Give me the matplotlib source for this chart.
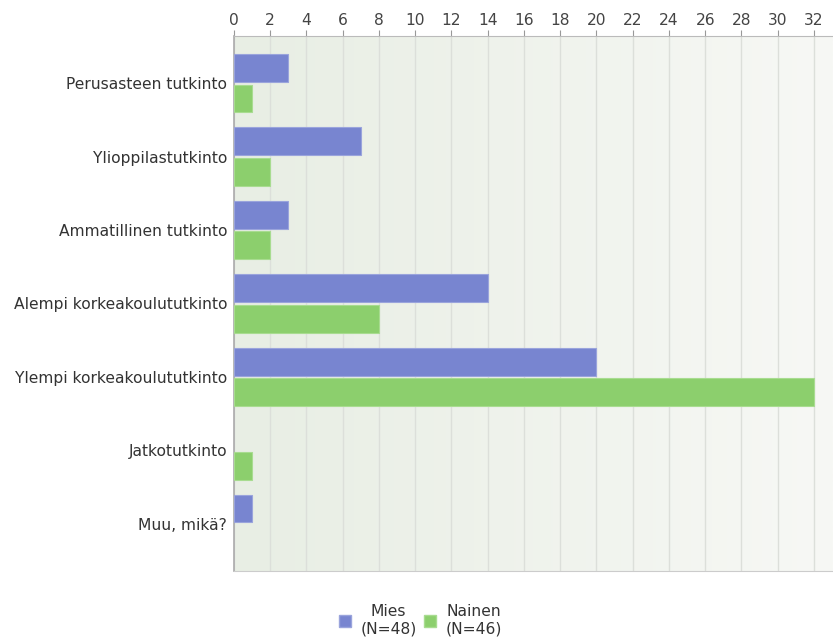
import matplotlib
matplotlib.use('Agg')
import matplotlib.pyplot as plt
from matplotlib.colors import LinearSegmentedColormap
from matplotlib.patches import Patch
import numpy as np

categories = ['Perusasteen tutkinto', 'Ylioppilastutkinto', 'Ammatillinen tutkinto',
              'Alempi korkeakoulututkinto', 'Ylempi korkeakoulututkinto',
              'Jatkotutkinto', 'Muu, mikä?']
mies = [3, 7, 3, 14, 20, 0, 1]
nainen = [1, 2, 2, 8, 32, 1, 0]
series_labels = ['Mies\n(N=48)', 'Nainen\n(N=46)']
xticks = list(range(0, 33, 2))

blue = '#7885d0'
green = '#8ccf6d'
fs = 11.2

fig = plt.figure(figsize=(8.33, 6.43), dpi=100)
ax = fig.add_axes([234 / 833, 1 - 571 / 643, 1 - 234 / 833, (571 - 36) / 643])

# background gradient
cmap = LinearSegmentedColormap.from_list('bg', ['#e8eee4', '#f7f8f5'])
ax.imshow(np.linspace(0, 1, 256).reshape(1, -1), cmap=cmap, aspect='auto',
          extent=[0, 33.05, 6.64, -0.64], zorder=0)

y = np.arange(len(categories))
h = 0.38
ax.barh(y - 0.21, mies, height=h, color=blue, edgecolor='#9aa4dc',
        linewidth=[0.8 if v else 0 for v in mies], zorder=3)
ax.barh(y + 0.21, nainen, height=h, color=green, edgecolor='#a8dc90',
        linewidth=[0.8 if v else 0 for v in nainen], zorder=3)

ax.set_xlim(0, 33.05)
ax.set_ylim(6.64, -0.64)
ax.set_xticks(xticks)
ax.xaxis.tick_top()
ax.tick_params(axis='x', direction='out', length=4, width=0.8, color='#999999',
               labelsize=fs, labelcolor='#444444', pad=2)
ax.set_yticks(y)
ax.set_yticklabels(categories)
ax.tick_params(axis='y', length=0, labelsize=fs, labelcolor='#333333', pad=5)
ax.grid(axis='x', color='#dcdfda', linewidth=1, zorder=1)

ax.spines['right'].set_visible(False)
ax.spines['top'].set_color('#bbbbbb')
ax.spines['left'].set_color('#aaaaaa')
ax.spines['left'].set_linewidth(1.2)
ax.spines['bottom'].set_color('#cccccc')

handles = [Patch(facecolor=blue, edgecolor='#9aa4dc'), Patch(facecolor=green, edgecolor='#a8dc90')]
leg = fig.legend(handles, series_labels, loc='lower center', bbox_to_anchor=(0.505, -0.012),
                 ncol=2, frameon=False, fontsize=fs, handlelength=0.75, handleheight=0.75,
                 handletextpad=0.6, columnspacing=0.5, labelcolor='#333333')
for t in leg.get_texts():
    t.set_multialignment('center')

fig.savefig('out.png', dpi=100, facecolor='white')
